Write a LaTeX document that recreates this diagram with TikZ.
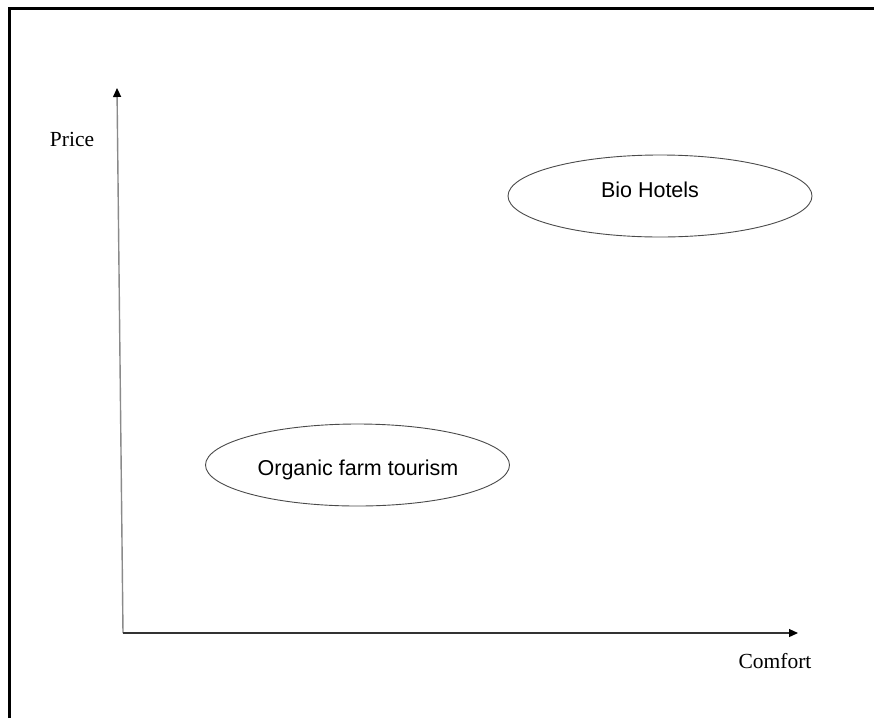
\documentclass[tikz,border=0pt]{standalone}
\usepackage{fontspec}
\setmainfont{Liberation Serif}
\newfontfamily\arialfont{Liberation Sans}
\usetikzlibrary{arrows.meta,shapes.geometric}
\definecolor{axisgray}{HTML}{8A8A8A}
\definecolor{axisdark}{HTML}{333333}
\definecolor{ovalline}{HTML}{4A4A4A}
\begin{document}
\begin{tikzpicture}[x=1pt,y=-1pt,
  frame/.style={line width=3pt,black},
  axistip/.style={-{Triangle[length=9pt,width=8pt,color=black]}},
  oval/.style={ellipse,draw=ovalline,line width=0.9pt,minimum width=304pt,minimum height=82pt,inner sep=0pt},
  ovaltext/.style={font=\arialfont\fontsize{21.5}{24}\selectfont,anchor=base,inner sep=0pt},
  axislabel/.style={font=\fontsize{21.5}{24}\selectfont,anchor=base,inner sep=0pt}]
  \useasboundingbox (0,0) rectangle (874,718);
  \fill[white] (0,0) rectangle (874,718);
  % open frame: left and top edges only
  \draw[frame] (9.5,718) -- (9.5,8) -- (874,8);
  % axes
  \coordinate (origin) at (123,633);
  \coordinate (ytop) at (117,88);
  \coordinate (xend) at (798,633);
  \draw[axistip,draw=axisgray,line width=1.4pt] (origin) -- (ytop);
  \draw[axistip,draw=axisdark,line width=1.2pt] (origin) -- (xend);
  \node[axislabel] (price) at (72,146) {Price};
  \node[axislabel] (comfort) at (775,668) {Comfort};
  % market positions
  \node[oval] (bio) at (660,196) {};
  \node[ovaltext] (biotext) at (650,197) {Bio Hotels};
  \node[oval] (farm) at (357.5,465) {};
  \node[ovaltext] (farmtext) at (358,475) {Organic farm tourism};
\end{tikzpicture}
\end{document}
